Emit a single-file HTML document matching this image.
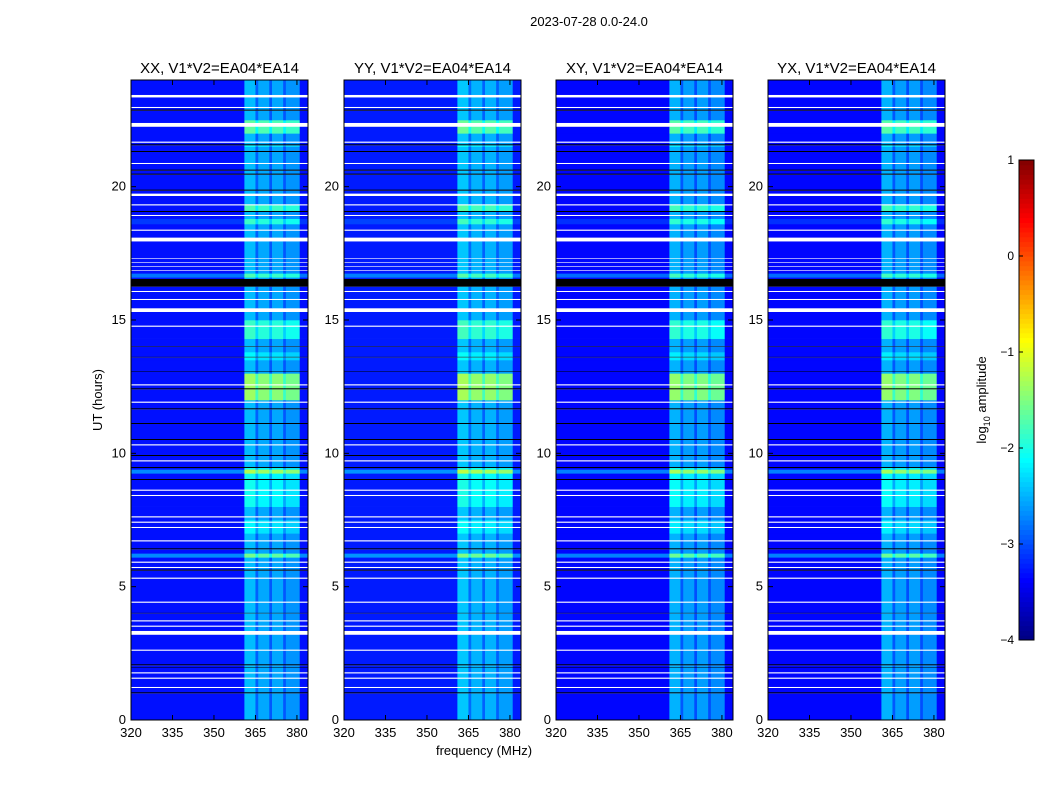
<!DOCTYPE html>
<html><head><meta charset="utf-8"><style>
body{margin:0;background:#fff;width:1050px;height:800px;position:relative;overflow:hidden;font-family:"Liberation Sans",sans-serif}
.t{position:absolute;white-space:nowrap}
</style></head><body>
<div class="t" style="left:0;width:1178px;text-align:center;top:14px;font-size:13px">2023-07-28 0.0-24.0</div>
<svg id="s" width="1050" height="800" style="position:absolute;left:0;top:0"></svg>
<script>
const panelTitles=["XX, V1*V2=EA04*EA14","YY, V1*V2=EA04*EA14","XY, V1*V2=EA04*EA14","YX, V1*V2=EA04*EA14"];
const panelGain=[0,0.05,-0.05,-0.05];
const xTicks=[320,335,350,365,380];
const yTicks=[0,5,10,15,20];
const cbTicks=[1,0,-1,-2,-3,-4];
const chanStart=[320,361,365,366,370,371,375,376,381];
const chanLevel=[-3.3,-2.45,-2.9,-2.55,-2.95,-2.55,-2.95,-2.65,-3.3];
const whiteRows=[[23.35,23.45],[22.95,23.0],[22.25,22.4],[21.65,21.7],[20.85,20.9],[19.65,19.75],[19.3,19.35],[18.9,18.95],[18.35,18.4],[17.95,18.1],[17.3,17.33],[17.15,17.18],[17.0,17.03],[16.85,16.88],[16.05,16.1],[15.75,15.8],[15.3,15.45],[14.75,14.8],[12.55,12.6],[11.9,11.95],[10.3,10.35],[9.7,9.75],[8.6,8.65],[8.4,8.45],[7.6,7.65],[7.4,7.45],[7.2,7.25],[6.7,6.75],[5.9,5.95],[5.7,5.75],[5.3,5.35],[4.4,4.45],[3.7,3.75],[3.5,3.55],[3.2,3.35],[2.6,2.65],[1.75,1.8],[1.55,1.6],[1.2,1.25]];
const blackRows=[[22.85,22.9],[21.55,21.6],[21.3,21.35],[20.6,20.65],[20.45,20.5],[19.85,19.9],[19.05,19.1],[16.25,16.55],[14.0,14.03],[13.6,13.63],[13.05,13.08],[12.4,12.45],[11.65,11.7],[11.1,11.15],[10.5,10.55],[9.9,9.95],[9.45,9.5],[9.0,9.05],[6.4,6.45],[5.6,5.65],[4.0,4.03],[2.05,2.1],[1.95,1.98],[1.0,1.05]];
const boostStart=[22.0,21.5,19.1,18.6,14.3,13.5,12.0,8.0,7.0,6.1,9.25,16.6];
const boostEnd  =[22.5,21.55,19.35,18.8,15.0,13.8,13.0,9.5,7.5,6.25,9.4,16.75];
const boostBand =[0.8,0.3,0.7,0.4,0.6,0.3,1.1,0.4,0.3,0.3,0.2,0.2];
const boostAll  =[0,0,0,0.2,0,0,0,0,0,0.6,0.6,0.5];
const NS='http://www.w3.org/2000/svg';
const svg=document.getElementById('s');
const lefts=[131,344,556,768],W=177,TOP=80,H=640;
const xs=(f,l)=>l+(f-320)/64*W;
const ys=h=>TOP+H-(h/24)*H;
function jet(v){let t=Math.max(0,Math.min(1,(v+4)/5));const c=x=>Math.round(255*Math.max(0,Math.min(1,1.5-Math.abs(4*t-x))));return `rgb(${c(3)},${c(2)},${c(1)})`;}
function mk(tag,a,p){const e=document.createElementNS(NS,tag);for(const k in a)e.setAttribute(k,a[k]);(p||svg).appendChild(e);return e;}
function levelAt(h,band){let v=0;for(let i=0;i<boostStart.length;i++)if(h>=boostStart[i]&&h<boostEnd[i])v+=band?boostBand[i]:boostAll[i];return v;}
lefts.forEach((L,p)=>{
  const g=mk('g',{});
  
  
  let edges=[0,24];
  [whiteRows,blackRows].forEach(a=>a.forEach(r=>edges.push(r[0],r[1])));
  for(let i=0;i<boostStart.length;i++)edges.push(boostStart[i],boostEnd[i]);
  edges=[...new Set(edges)].sort((a,b)=>a-b);
  for(let k=0;k<edges.length-1;k++){
    const h0=edges[k],h1=edges[k+1],hm=(h0+h1)/2;
    const y0=ys(h1),hh=ys(h0)-ys(h1);
    const isW=whiteRows.some(r=>hm>=r[0]&&hm<r[1]);
    const isB=blackRows.some(r=>hm>=r[0]&&hm<r[1]);
    if(isW||isB){const r=mk('rect',{x:L,y:y0,width:W,height:hh,fill:isW?'#fff':'#000'},g);
      
      continue;}
    const bb=levelAt(hm,true),ba=levelAt(hm,false);
    for(let c=0;c<chanStart.length;c++){
      const f0=chanStart[c],f1=c<chanStart.length-1?chanStart[c+1]:384;
      const band=chanLevel[c]>-3.2;
      const v=chanLevel[c]+ba+(band?bb:0)+panelGain[p];
      const r=mk('rect',{x:xs(f0,L),y:y0,width:xs(f1,L)-xs(f0,L)+0.3,height:hh+0.3,fill:jet(v)},g);
      
      
    }
  }
  const fr=mk('rect',{x:L,y:TOP,width:W,height:H,fill:'none',stroke:'#000','stroke-width':1});
  
  
  xTicks.forEach(t=>{const x=xs(t,L);
    mk('line',{x1:x,x2:x,y1:TOP+H,y2:TOP+H-5,stroke:'#000'});mk('line',{x1:x,x2:x,y1:TOP,y2:TOP+5,stroke:'#000'});
    const tx=mk('text',{x:x,y:TOP+H+17,'text-anchor':'middle','font-size':13});tx.textContent=t;
    });
  yTicks.forEach(t=>{const y=ys(t);
    mk('line',{x1:L,x2:L+5,y1:y,y2:y,stroke:'#000'});mk('line',{x1:L+W,x2:L+W-5,y1:y,y2:y,stroke:'#000'});
    const tx=mk('text',{x:L-5,y:y+4,'text-anchor':'end','font-size':13});tx.textContent=t;
    });
  const tt=mk('text',{x:L+W/2,y:TOP-7,'text-anchor':'middle','font-size':15});tt.textContent=panelTitles[p];
  
});
const xl=mk('text',{x:484,y:755,'text-anchor':'middle','font-size':13});xl.textContent='frequency (MHz)';

const yl=mk('text',{x:0,y:0,'text-anchor':'middle','font-size':13,transform:'translate(102,400) rotate(-90)'});yl.textContent='UT (hours)';

const cb=mk('g',{});
const CX=1019,CW=15,CT=160,CH=480;
for(let i=0;i<100;i++){const v=-4+5*i/100;mk('rect',{x:CX,y:CT+CH-(i+1)*CH/100,width:CW,height:CH/100+0.5,fill:jet(v+0.025)},cb);}
mk('rect',{x:CX,y:CT,width:CW,height:CH,fill:'none',stroke:'#000'},cb);
cbTicks.forEach(t=>{const y=CT+CH-(t+4)/5*CH;mk('line',{x1:CX,x2:CX+4,y1:y,y2:y,stroke:'#000'},cb);
  const tx=mk('text',{x:CX-5,y:y+4,'text-anchor':'end','font-size':12},cb);tx.textContent=t<0?'\u2212'+(-t):t;
  });
const cl=mk('text',{x:0,y:0,'text-anchor':'middle','font-size':13,transform:'translate(986,400) rotate(-90)'});
cl.innerHTML='log<tspan font-size="9" dy="4">10</tspan><tspan dy="-4"> amplitude</tspan>';

</script>
</body></html>
